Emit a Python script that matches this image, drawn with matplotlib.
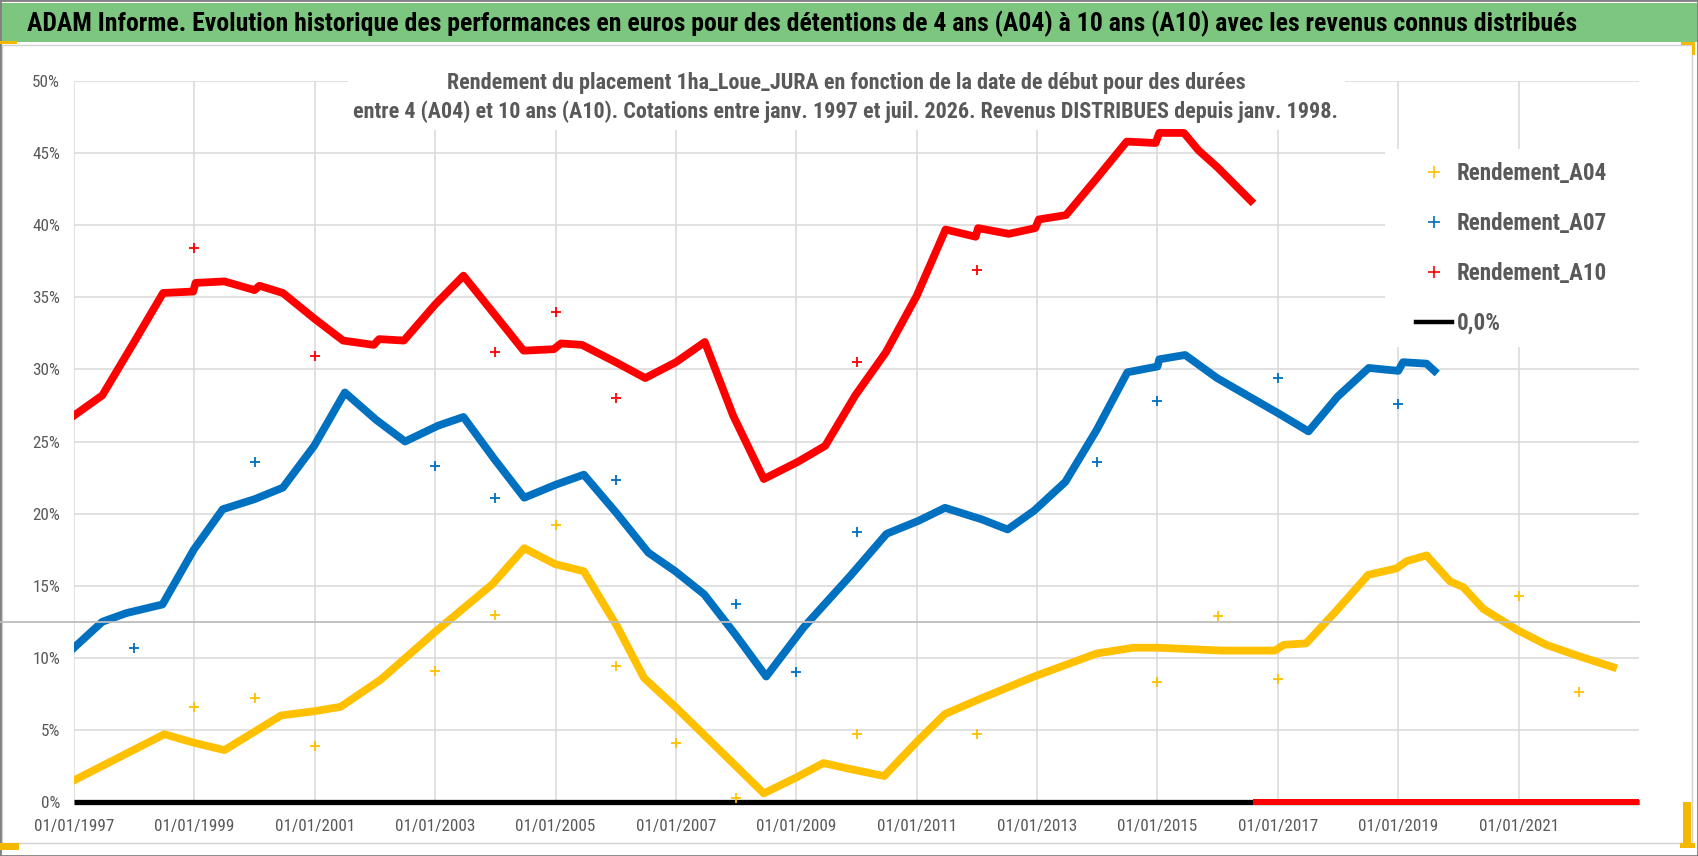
import matplotlib
matplotlib.use('Agg')
import matplotlib.pyplot as plt
import matplotlib.transforms as mtransforms
from matplotlib import font_manager
from matplotlib.lines import Line2D
from matplotlib.patches import Rectangle

# ---- data (start date as decimal year, return in %) ----
a04_dates = [1997.0, 1998.5, 1999.0, 1999.5, 2000.44, 2001.0, 2001.43, 2002.1, 2003.0,
             2003.95, 2004.48, 2004.99, 2005.47, 2006.02, 2006.47, 2006.99, 2008.46,
             2009.0, 2009.45, 2009.88, 2010.46, 2011.03, 2011.47, 2012.08, 2012.95,
             2013.99, 2014.6, 2015.0, 2016.08, 2016.95, 2017.1, 2017.47, 2017.98,
             2018.5, 2018.97, 2019.14, 2019.47, 2019.86, 2020.08, 2020.41, 2020.99,
             2021.46, 2022.01, 2022.57]
a04_vals = [1.5, 4.7, 4.1, 3.6, 6.0, 6.3, 6.6, 8.5, 11.8,
            15.1, 17.6, 16.5, 16.0, 12.2, 8.6, 6.6, 0.6,
            1.7, 2.7, 2.3, 1.8, 4.3, 6.1, 7.2, 8.7,
            10.3, 10.7, 10.7, 10.5, 10.5, 10.9, 11.0, 13.3,
            15.75, 16.2, 16.7, 17.1, 15.3, 14.9, 13.4, 11.9,
            10.9, 10.1, 9.35]

a07_dates = [1997.0, 1997.47, 1997.87, 1998.47, 1998.99, 1999.47, 2000.0, 2000.47,
             2000.99, 2001.5, 2002.02, 2002.5, 2003.05, 2003.47, 2003.98, 2004.48,
             2005.0, 2005.47, 2006.02, 2006.54, 2006.99, 2007.47, 2007.99, 2008.5,
             2009.12, 2009.9, 2010.5, 2011.03, 2011.47, 2012.08, 2012.51, 2012.95,
             2013.47, 2013.99, 2014.5, 2015.0, 2015.03, 2015.46, 2015.99, 2017.03,
             2017.51, 2017.99, 2018.51, 2019.0, 2019.08, 2019.47, 2019.6]
a07_vals = [10.7, 12.5, 13.1, 13.7, 17.5, 20.3, 21.0, 21.8,
            24.7, 28.4, 26.5, 25.0, 26.1, 26.7, 23.8, 21.1,
            22.0, 22.7, 20.0, 17.3, 16.0, 14.4, 11.6, 8.7,
            12.1, 15.7, 18.6, 19.5, 20.4, 19.6, 18.9, 20.2,
            22.2, 25.8, 29.8, 30.2, 30.7, 31.0, 29.4, 26.9,
            25.7, 28.1, 30.1, 29.9, 30.5, 30.4, 29.9]

a10_dates = [1997.0, 1997.47, 1998.0, 1998.48, 1998.98, 1999.02, 1999.5, 2000.0,
             2000.08, 2000.47, 2001.0, 2001.47, 2001.98, 2002.07, 2002.48, 2003.0,
             2003.47, 2003.99, 2004.47, 2004.97, 2005.09, 2005.44, 2006.0, 2006.49,
             2007.0, 2007.48, 2007.95, 2008.46, 2009.03, 2009.48, 2009.98, 2010.49,
             2011.0, 2011.48, 2011.98, 2012.02, 2012.53, 2012.97, 2013.03, 2013.48,
             2013.98, 2014.49, 2014.97, 2015.03, 2015.44, 2015.68, 2016.0, 2016.55]
a10_vals = [26.8, 28.2, 31.9, 35.3, 35.4, 36.0, 36.1, 35.5,
            35.8, 35.3, 33.5, 32.0, 31.7, 32.1, 32.0, 34.5,
            36.5, 33.8, 31.3, 31.4, 31.8, 31.7, 30.5, 29.4,
            30.5, 31.9, 26.8, 22.4, 23.6, 24.7, 28.2, 31.2,
            35.1, 39.7, 39.2, 39.8, 39.4, 39.8, 40.4, 40.7,
            43.2, 45.8, 45.7, 46.4, 46.4, 45.2, 44.0, 41.7]

# isolated points on 1st January
a04_jan_dates = [1999, 2000, 2001, 2003, 2004, 2005, 2006, 2007, 2008, 2010, 2012,
                 2015, 2016, 2017, 2021, 2022]
a04_jan_vals = [6.6, 7.2, 3.9, 9.1, 13.0, 19.2, 9.4, 4.1, 0.3, 4.7, 4.7,
                8.3, 12.9, 8.5, 14.3, 7.6]
a07_jan_dates = [1998, 2000, 2003, 2004, 2006, 2008, 2009, 2010, 2014, 2015, 2017, 2019]
a07_jan_vals = [10.7, 23.6, 23.3, 21.1, 22.3, 13.7, 9.0, 18.7, 23.6, 27.8, 29.4, 27.6]
a10_jan_dates = [1999, 2001, 2004, 2005, 2006, 2010, 2012]
a10_jan_vals = [38.4, 30.9, 31.2, 34.0, 28.0, 30.5, 36.9]

# A10 has no value (0) once the 10 years go past juil. 2026
a10_zero_dates = [2016.59, 2023.0]
a10_zero_vals = [0, 0]
zero_dates = [1997.0, 2023.0]
zero_vals = [0, 0]
ref_level = 12.45

tick_years = list(range(1997, 2022, 2))
tick_labels = ['01/01/%d' % y for y in tick_years]
y_ticks = list(range(0, 51, 5))

title = ("ADAM Informe. Evolution historique des performances en euros pour des "
         "détentions de 4 ans (A04) à 10 ans (A10) avec les revenus connus distribués")
sub1 = "Rendement du placement 1ha_Loue_JURA en fonction de la date de début pour des durées"
sub2 = ("entre 4 (A04) et 10 ans (A10). Cotations entre janv. 1997 et juil. 2026. "
        "Revenus DISTRIBUES depuis janv. 1998.")
legend_labels = ['Rendement_A04', 'Rendement_A07', 'Rendement_A10', '0,0%']

YELLOW, BLUE, RED = '#FFC000', '#0070C0', '#FF0000'
GREY = '#595959'

# narrowest font we can find (the original is Calibri)
names = set(f.name for f in font_manager.fontManager.ttflist)
narrow = 'DejaVu Sans'
for cand in ['Liberation Sans Narrow', 'Roboto Condensed', 'Open Sans Condensed', 'Lato', 'Roboto']:
    if cand in names:
        narrow = cand
        break
FAM = [narrow, 'DejaVu Sans']

W, H = 1698, 856
fig = plt.figure(figsize=(W / 100, H / 100), dpi=100)


def fx(px):
    return px / W


def fy(py):
    return 1 - py / H


def text_size(s, width_px, weight='bold'):
    # font size (pt) that gives the string the wanted width in pixels
    t = fig.text(0, 0, s, fontsize=20, fontweight=weight, family=FAM)
    fig.canvas.draw()
    bb = t.get_window_extent()
    t.remove()
    k = width_px / bb.width
    return 20 * k, bb.height * k


# frames and banner
fig.add_artist(Rectangle((fx(2), fy(843)), fx(1692) - fx(2), fy(45) - fy(843),
                         transform=fig.transFigure, fill=False, ec='#d0d0d0', lw=1))
fig.add_artist(Rectangle((0, fy(42)), 1, fy(3) - fy(42), transform=fig.transFigure,
                         fc='#7dc67f', ec='none'))
fig.add_artist(Rectangle((0, 0), 1, 1, transform=fig.transFigure, fill=False,
                         ec='#808080', lw=2))
for (x0, y0, x1, y1) in [(0, 41, 17, 44), (1681, 42, 1695, 45), (1692, 42, 1695, 55),
                         (0, 843, 19, 850), (1683, 802, 1691, 848), (1680, 843, 1695, 848)]:
    fig.add_artist(Rectangle((fx(x0), fy(y1)), fx(x1) - fx(x0), fy(y0) - fy(y1),
                             transform=fig.transFigure, fc='#F5B800', ec='none'))

title_size, _ = text_size(title, 1549)
fig.text(fx(27), fy(24), title, ha='left', va='center', fontsize=title_size,
         fontweight='bold', color='black', family=FAM)

X0, X1 = 74, 1639
ax = fig.add_axes([fx(X0), fy(802), fx(X1) - fx(X0), fy(81) - fy(802)])
ax.set_xlim(1997, 2023)
ax.set_ylim(0, 50)
ax.set_xticks(tick_years)
ax.set_xticklabels(tick_labels)
ax.set_yticks(y_ticks)
ax.set_yticklabels(['%d%%' % v for v in y_ticks])
ax.grid(True, color='#d9d9d9', lw=1.1)
ax.set_axisbelow(True)
for s in ax.spines.values():
    s.set_visible(False)
tick_size, _ = text_size('01/01/1997', 80, weight='normal')
ax.tick_params(length=0, labelsize=tick_size, labelcolor=GREY)
ax.tick_params(axis='x', pad=12)
ax.tick_params(axis='y', pad=10)
for lab in ax.get_xticklabels() + ax.get_yticklabels():
    lab.set_family(FAM)

# darker reference line running from the chart edge
blend = mtransforms.blended_transform_factory(fig.transFigure, ax.transData)
fig.add_artist(Line2D([0, fx(X1)], [ref_level, ref_level], transform=blend,
                      color='#bdbdbd', lw=1.3))

# white boxes of the chart title and legend
for (x0, y0, x1, y1) in [(348, 50, 1345, 130), (1385, 149, 1645, 347)]:
    ax.add_patch(Rectangle((fx(x0), fy(y1)), fx(x1) - fx(x0), fy(y0) - fy(y1),
                           transform=fig.transFigure, fc='white', ec='none',
                           zorder=1.5, clip_on=False))

LW = 5.6
ax.plot(zero_dates, zero_vals, color='black', lw=3.8, solid_capstyle='butt', zorder=2,
        clip_on=False)
ax.plot(a04_dates, a04_vals, color=YELLOW, lw=LW, solid_joinstyle='round', zorder=3)
ax.plot(a07_dates, a07_vals, color=BLUE, lw=LW, solid_joinstyle='round', zorder=3)
ax.plot(a10_dates, a10_vals, color=RED, lw=LW, solid_joinstyle='round', zorder=3)
ax.plot(a10_zero_dates, a10_zero_vals, color=RED, lw=4.3, solid_capstyle='butt',
        zorder=3, clip_on=False)
ax.plot(a04_jan_dates, a04_jan_vals, ls='none', marker='+', ms=7, mew=1.3, color=YELLOW, zorder=4)
ax.plot(a07_jan_dates, a07_jan_vals, ls='none', marker='+', ms=7, mew=1.3, color=BLUE, zorder=4)
ax.plot(a10_jan_dates, a10_jan_vals, ls='none', marker='+', ms=7, mew=1.3, color=RED, zorder=4)

sub_size, _ = text_size(sub2, 983)
fig.text(fx(846), fy(83), sub1, ha='center', va='center', fontsize=sub_size,
         fontweight='bold', color=GREY, family=FAM)
fig.text(fx(845), fy(112), sub2, ha='center', va='center', fontsize=sub_size,
         fontweight='bold', color=GREY, family=FAM)

leg_size, leg_h = text_size('Rendement_A04', 150)
leg_px = leg_size * 100 / 72
handles = [Line2D([], [], ls='none', marker='+', ms=8, mew=1.2, color=YELLOW),
           Line2D([], [], ls='none', marker='+', ms=8, mew=1.2, color=BLUE),
           Line2D([], [], ls='none', marker='+', ms=8, mew=1.2, color=RED),
           Line2D([], [], color='black', lw=3.2)]
leg = ax.legend(handles, legend_labels, loc='upper left',
                bbox_to_anchor=(fx(1416), fy(173 - leg_h / 2)), bbox_transform=fig.transFigure,
                frameon=False, borderpad=0, borderaxespad=0,
                handlelength=36 / leg_px, handletextpad=5 / leg_px,
                labelspacing=(49.5 - leg_h) / leg_px,
                prop=dict(size=leg_size, weight='bold', family=FAM))
for txt in leg.get_texts():
    txt.set_color(GREY)

fig.savefig('out.png', dpi=100)
